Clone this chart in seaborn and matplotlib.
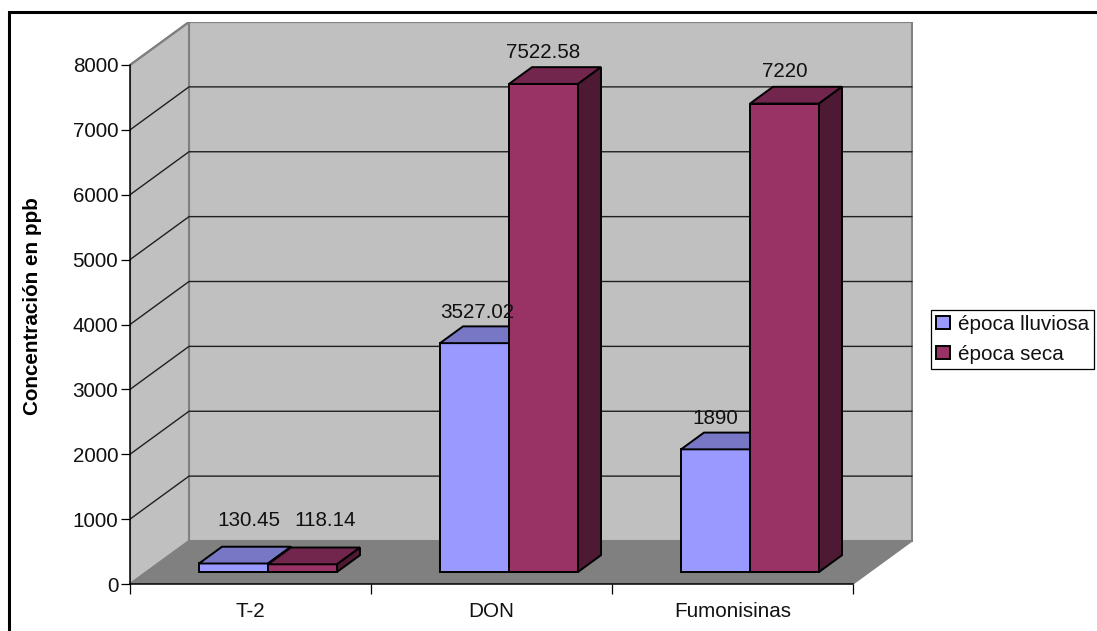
import matplotlib
matplotlib.use("Agg")
import matplotlib.pyplot as plt
from matplotlib.lines import Line2D
from matplotlib.patches import Patch
import pandas as pd
import seaborn as sns

# Mycotoxin concentration by season
categories = ["T-2", "DON", "Fumonisinas"]
lluviosa = [130.45, 3527.02, 1890]
seca = [118.14, 7522.58, 7220]
value_labels = {"época lluviosa": ["130.45", "3527.02", "1890"],
                "época seca": ["118.14", "7522.58", "7220"]}
y_ticks = list(range(0, 8001, 1000))

df = pd.DataFrame({
    "categoria": categories * 2,
    "epoca": ["época lluviosa"] * 3 + ["época seca"] * 3,
    "valor": lluviosa + seca,
})

sns.set_style("white")
plt.rcParams["font.family"] = ["Liberation Sans", "DejaVu Sans"]
FONT = 14.9
INK = "#111111"
plt.rcParams.update({"font.size": FONT, "text.color": INK, "axes.labelcolor": "black",
                     "xtick.labelcolor": INK, "ytick.labelcolor": INK})

W, H = 1097, 631
fig = plt.figure(figsize=(W / 100, H / 100), dpi=100)
fig.patch.set_facecolor("white")

# Axes box runs from the front-left corner of the floor to the top of the back wall
AX_L, AX_R, AX_T, AX_B = 130, 913, 22, 584
ax = fig.add_axes([AX_L / W, 1 - AX_B / H, (AX_R - AX_L) / W, (AX_B - AX_T) / H])
ax.patch.set_alpha(0)

PX_PER_CAT = 241.0
PX_PER_VAL = 519.0 / 8000
DX = 59 / PX_PER_CAT       # oblique depth, in category units
DY = 43 / PX_PER_VAL       # oblique depth, in value units
BASE = 0.28 * DY           # bars stand part way back on the floor
BAR_DEPTH = 0.39
BAR_W = 69 / PX_PER_CAT

FRONT_L = -0.5726
FRONT_R = FRONT_L + 3
TOP = 8000

colors = {"época lluviosa": "#9999FF", "época seca": "#993366"}
top_colors = ["#7777C6", "#73264D"]
side_colors = ["#4D4D80", "#4D1933"]

sns.barplot(data=df, x="categoria", y="valor", hue="epoca", order=categories,
            palette=colors, saturation=1, width=2 * BAR_W, gap=0, dodge=True,
            edgecolor="black", linewidth=1.4, bottom=BASE, legend=False, ax=ax)

ax.set_xlim(FRONT_L, FRONT_L + (AX_R - AX_L) / PX_PER_CAT)
ax.set_ylim(0, (AX_B - AX_T) / PX_PER_VAL)

# Walls and floor of the box
ax.fill([FRONT_L + DX, FRONT_R + DX, FRONT_R + DX, FRONT_L + DX],
        [DY, DY, TOP + DY, TOP + DY], fc="#C0C0C0", ec="#808080", lw=1.5, zorder=0.2)
ax.fill([FRONT_L, FRONT_L + DX, FRONT_L + DX, FRONT_L],
        [TOP, TOP + DY, DY, 0], fc="#C0C0C0", ec="#808080", lw=1.5, zorder=0.3)
ax.fill([FRONT_L, FRONT_R, FRONT_R + DX, FRONT_L + DX],
        [0, 0, DY, DY], fc="#808080", ec="#808080", lw=1, zorder=0.4)

# Gridlines wrap from the side wall onto the back wall
for v in y_ticks[1:]:
    col, lw = ("#808080", 1.5) if v == TOP else ("#202020", 1.0)
    ax.plot([FRONT_L, FRONT_L + DX, FRONT_R + DX], [v, v + DY, v + DY],
            color=col, lw=lw, zorder=0.5, solid_joinstyle="miter")

# Oblique top and side faces, stacked so the second series hides the first
for s, container in enumerate(ax.containers):
    for patch in container.patches:
        patch.set_zorder(2 + s)
        x0, x1 = patch.get_x(), patch.get_x() + patch.get_width()
        y0, y1 = patch.get_y(), patch.get_y() + patch.get_height()
        ddx, ddy = BAR_DEPTH * DX, BAR_DEPTH * DY
        ax.fill([x0, x1, x1 + ddx, x0 + ddx], [y1, y1, y1 + ddy, y1 + ddy],
                fc=top_colors[s], ec="black", lw=1.4, zorder=2 + s)
        ax.fill([x1, x1 + ddx, x1 + ddx, x1], [y0, y0 + ddy, y1 + ddy, y1],
                fc=side_colors[s], ec="black", lw=1.4, zorder=2 + s)

# Value labels, lifted above the bar tops; the T-2 pair sits further out
label_shift = [[(15, 43), (3, 31), (0, 31)],
               [(23, 44), (0, 31), (0, 32)]]
for s, (container, texts) in enumerate(zip(ax.containers, value_labels.values())):
    for i, (patch, text) in enumerate(zip(container.patches, texts)):
        sx, sy = label_shift[s][i]
        ax.annotate(text, (patch.get_x() + patch.get_width() / 2,
                           patch.get_y() + patch.get_height()),
                    xytext=(sx * 0.72, sy * 0.72), textcoords="offset points",
                    ha="center", va="center", fontsize=FONT, color=INK, zorder=6)

# Axes furniture
for name in ("top", "right"):
    ax.spines[name].set_visible(False)
ax.spines["left"].set_bounds(0, TOP)
ax.spines["bottom"].set_bounds(FRONT_L, FRONT_R)
for name in ("left", "bottom"):
    ax.spines[name].set_color("black")
    ax.spines[name].set_linewidth(1.1)
    ax.spines[name].set_zorder(5)

ax.set_yticks(y_ticks)
ax.tick_params(axis="y", length=6.5, width=0.9, color="black", pad=2, labelsize=FONT,
               left=True)
edges = [FRONT_L + i for i in range(4)]
ax.set_xticks(edges)
ax.set_xticklabels([])
ax.tick_params(axis="x", which="major", length=7.2, width=0.9, color="black", bottom=True)
ax.get_xticklines()[-2].set_color("#808080")
ax.set_xticks([FRONT_L + i + 0.5 for i in range(3)], labels=categories, minor=True)
ax.tick_params(axis="x", which="minor", length=0, pad=13, labelsize=FONT)
ax.set_xlabel("")
ax.set_ylabel("Concentración en ppb", fontsize=FONT, fontweight="bold", labelpad=0,
              color="black")
ax.yaxis.set_label_coords((42 - AX_L) / (AX_R - AX_L), 1 - (306 - AX_T) / (AX_B - AX_T))

# Legend box to the right of the plot
handles = [Patch(fc=colors[k], ec="black", lw=1.4) for k in colors]
leg = ax.legend(handles, list(colors), loc="upper left",
                bbox_to_anchor=(931 / W, 1 - 310 / H), bbox_transform=fig.transFigure,
                frameon=True, fancybox=False, framealpha=1, edgecolor="black",
                fontsize=FONT, handlelength=0.7, handleheight=0.63, handletextpad=0.35,
                labelspacing=0.52, borderpad=0.24, borderaxespad=0, labelcolor=INK)
leg.get_frame().set_linewidth(0.9)

# Heavy outer frame, open at the right and bottom edges
fig.add_artist(Line2D([8.5 / W, 8.5 / W, 1], [0, 1 - 11.5 / H, 1 - 11.5 / H],
                      color="black", lw=2.2, transform=fig.transFigure,
                      solid_joinstyle="miter"))

fig.savefig("out.png", dpi=100)
